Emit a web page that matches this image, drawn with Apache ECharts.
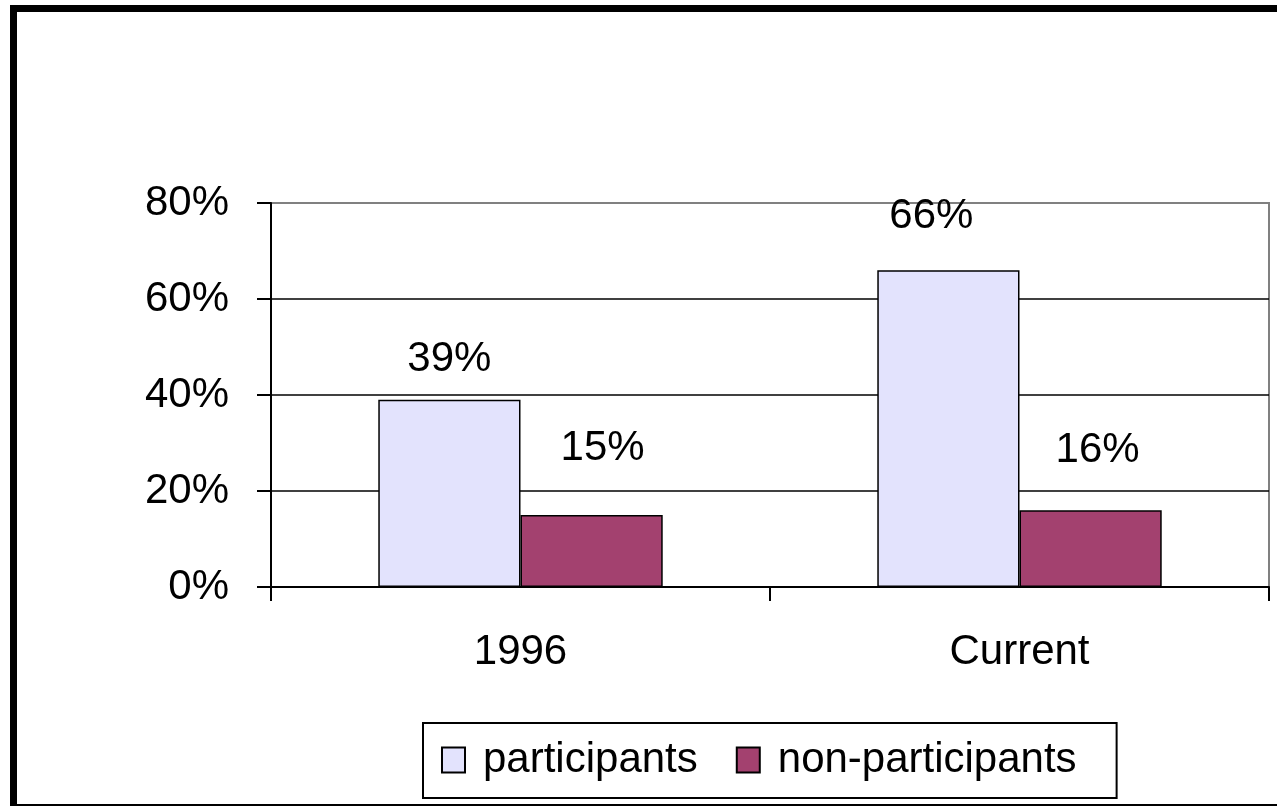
<!DOCTYPE html>
<html>
<head>
<meta charset="utf-8">
<script src="https://cdn.jsdelivr.net/npm/echarts@6/dist/echarts.min.js"></script>
<style>
  html, body { margin: 0; padding: 0; background: #fff; }
  #chart { width: 1277px; height: 807px; position: relative; }
  #frame { position: absolute; left: 10px; top: 5px; width: 1280px; height: 792px;
           border-left: 7px solid #000; border-top: 7px solid #000; border-bottom: 2px solid #000;
           pointer-events: none; }
</style>
</head>
<body>
<div style="position:relative;width:1277px;height:807px;overflow:hidden;">
  <div id="chart"></div>
  <div id="frame"></div>
</div>
<script>
const categories = ['1996', 'Current'];
const seriesNames = ['participants', 'non-participants'];
const participants = [39, 66];
const nonParticipants = [15, 16];
const yTicks = [0, 20, 40, 60, 80];

// label placement (style, pixels): [dx, dy] per bar
const labelOffsets = {
  participants: [[0, -19], [-17, -33]],
  nonParticipants: [[11, -46], [7, -39]]
};

const FONT = '"Liberation Sans", Arial, sans-serif';
const FS = 42;
const chart = echarts.init(document.getElementById('chart'), null, { renderer: 'canvas' });

function buildData(values, offsets) {
  return values.map((v, i) => ({
    value: v,
    label: { offset: offsets[i] }
  }));
}

const labelStyle = {
  show: true,
  position: 'top',
  distance: 0,
  color: '#000',
  fontFamily: FONT,
  fontSize: FS,
  formatter: p => p.value + '%'
};

chart.setOption({
  animation: false,
  backgroundColor: '#fff',
  grid: {
    left: 271, right: 8, top: 203, bottom: 220,
    show: true, borderColor: '#808080', borderWidth: 2, backgroundColor: 'transparent'
  },
  legend: {
    left: 423, top: 723,
    orient: 'horizontal',
    padding: [16, 40, 17, 18],
    borderColor: '#000', borderWidth: 2,
    itemWidth: 23, itemHeight: 25, itemGap: 38,
    icon: 'rect',
    textStyle: { fontFamily: FONT, fontSize: FS, color: '#000', padding: [0, 0, 0, 13] },
    data: seriesNames
  },
  xAxis: {
    type: 'category',
    data: categories,
    axisLine: { lineStyle: { color: '#000', width: 2 } },
    axisTick: { show: true, length: 14, lineStyle: { color: '#000', width: 2 } },
    axisLabel: { color: '#000', fontFamily: FONT, fontSize: FS, margin: 44 },
    splitLine: { show: false }
  },
  yAxis: {
    type: 'value',
    min: yTicks[0], max: yTicks[yTicks.length - 1], interval: yTicks[1] - yTicks[0],
    axisLine: { show: true, lineStyle: { color: '#000', width: 2 } },
    axisTick: { show: true, length: 14, lineStyle: { color: '#000', width: 2 } },
    axisLabel: { color: '#000', fontFamily: FONT, fontSize: FS, margin: 42, formatter: '{value}%' },
    splitLine: { show: true, showMaxLine: false, lineStyle: { color: '#000', width: 1.5 } }
  },
  series: [
    {
      name: seriesNames[0],
      type: 'bar',
      barGap: '0%',
      barCategoryGap: '43%',
      data: buildData(participants, labelOffsets.participants),
      itemStyle: { color: '#E3E3FD', borderColor: '#000', borderWidth: 1.5 },
      label: labelStyle
    },
    {
      name: seriesNames[1],
      type: 'bar',
      barGap: '0%',
      barCategoryGap: '43%',
      data: buildData(nonParticipants, labelOffsets.nonParticipants),
      itemStyle: { color: '#A3416F', borderColor: '#000', borderWidth: 1.5 },
      label: labelStyle
    }
  ]
});
</script>
</body>
</html>
